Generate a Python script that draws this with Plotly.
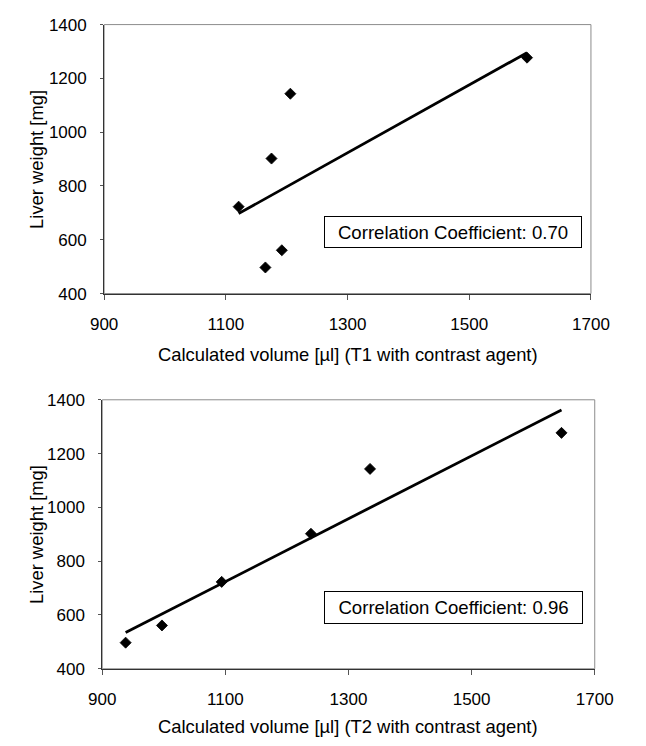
import numpy as np
import plotly.graph_objects as go

# Liver weight for each animal [mg]
liver_weight = [723, 902, 1143, 497, 561, 1277]

# Calculated liver volume [µl] for the same animals
volume_t1 = [1121, 1175, 1206, 1165, 1192, 1595]   # T1 with contrast agent
volume_t2 = [1094, 1239, 1335, 938, 997, 1646]     # T2 with contrast agent

x_ticks = [900, 1100, 1300, 1500, 1700]
y_ticks = [400, 600, 800, 1000, 1200, 1400]

x_titles = [
    "Calculated volume [\u00b5l] (T1 with contrast agent)",
    "Calculated volume [\u00b5l] (T2 with contrast agent)",
]
y_title = "Liver weight [mg]"
corr_labels = ["Correlation Coefficient: 0.70", "Correlation Coefficient: 0.96"]

FONT = "Liberation Sans, Arial, sans-serif"
FS_TICK = 17
FS_TITLE = 18.4
FS_BOX = 18.6
W, H = 646, 746

# panel rectangles in pixels: left, top, right, bottom
panels = [(95, 16, 608, 292), (93, 401, 612, 677)]
boxes = [(334, 213, 592, 245), (334, 598, 593, 631)]
x_title_y = [355, 736]

fig = go.Figure()

volumes = [volume_t1, volume_t2]
for i, vol in enumerate(volumes):
    xa = "x" if i == 0 else "x2"
    ya = "y" if i == 0 else "y2"
    x = np.array(vol, dtype=float)
    y = np.array(liver_weight, dtype=float)
    slope, icpt = np.polyfit(x, y, 1)
    xl = np.array([x.min(), x.max()])
    fig.add_trace(go.Scatter(
        x=xl, y=slope * xl + icpt, mode="lines",
        line=dict(color="black", width=2.8),
        xaxis=xa, yaxis=ya, showlegend=False, hoverinfo="skip"))
    fig.add_trace(go.Scatter(
        x=x, y=y, mode="markers",
        marker=dict(symbol="diamond", size=8.5, color="black",
                    line=dict(color="black", width=0.8)),
        xaxis=xa, yaxis=ya, showlegend=False))

axis_common = dict(
    showgrid=False, zeroline=False, showline=True, linecolor="#333333",
    linewidth=1, ticks="outside", tickcolor="#555555", tickwidth=1,
    tickfont=dict(family=FONT, size=FS_TICK, color="black"),
)

layout = dict(
    width=W, height=H, margin=dict(l=0, r=0, t=0, b=0),
    paper_bgcolor="white", plot_bgcolor="white",
    font=dict(family=FONT, color="black"), showlegend=False,
)

shapes, annotations = [], []
for i, (l, t, r, b) in enumerate(panels):
    sfx = "" if i == 0 else "2"
    layout["xaxis" + sfx] = dict(
        axis_common, domain=[l / W, r / W], range=[900, 1700],
        tickvals=x_ticks, ticklen=5, ticklabelstandoff=10,
        anchor="y" + sfx)
    layout["yaxis" + sfx] = dict(
        axis_common, domain=[1 - b / H, 1 - t / H], range=[400, 1400],
        tickvals=y_ticks, ticklen=3, ticklabelstandoff=10,
        anchor="x" + sfx)
    # light frame around the plot area
    shapes.append(dict(
        type="rect", xref="x%s domain" % sfx, yref="y%s domain" % sfx,
        x0=0, x1=1, y0=0, y1=1, line=dict(color="#8c8c8c", width=1),
        layer="below"))
    # axis titles
    annotations.append(dict(
        text=x_titles[i], xref="paper", yref="paper",
        x=(l + r) / 2 / W, y=1 - x_title_y[i] / H,
        xanchor="center", yanchor="middle", showarrow=False,
        font=dict(family=FONT, size=FS_TITLE, color="black")))
    annotations.append(dict(
        text=y_title, xref="paper", yref="paper",
        x=23 / W, y=1 - (t + b) / 2 / H, textangle=-90,
        xanchor="center", yanchor="middle", showarrow=False,
        font=dict(family=FONT, size=FS_TITLE, color="black")))
    # correlation coefficient box
    bl, bt, br, bb = boxes[i]
    annotations.append(dict(
        text=corr_labels[i], xref="paper", yref="paper",
        x=(bl + br) / 2 / W, y=1 - (bt + bb) / 2 / H,
        xanchor="center", yanchor="middle", showarrow=False,
        width=br - bl - 6, height=bb - bt - 6, borderpad=2,
        bordercolor="black", borderwidth=1, bgcolor="white",
        font=dict(family=FONT, size=FS_BOX, color="black")))

layout["shapes"] = shapes
layout["annotations"] = annotations
fig.update_layout(**layout)

fig.write_html("out.html")
